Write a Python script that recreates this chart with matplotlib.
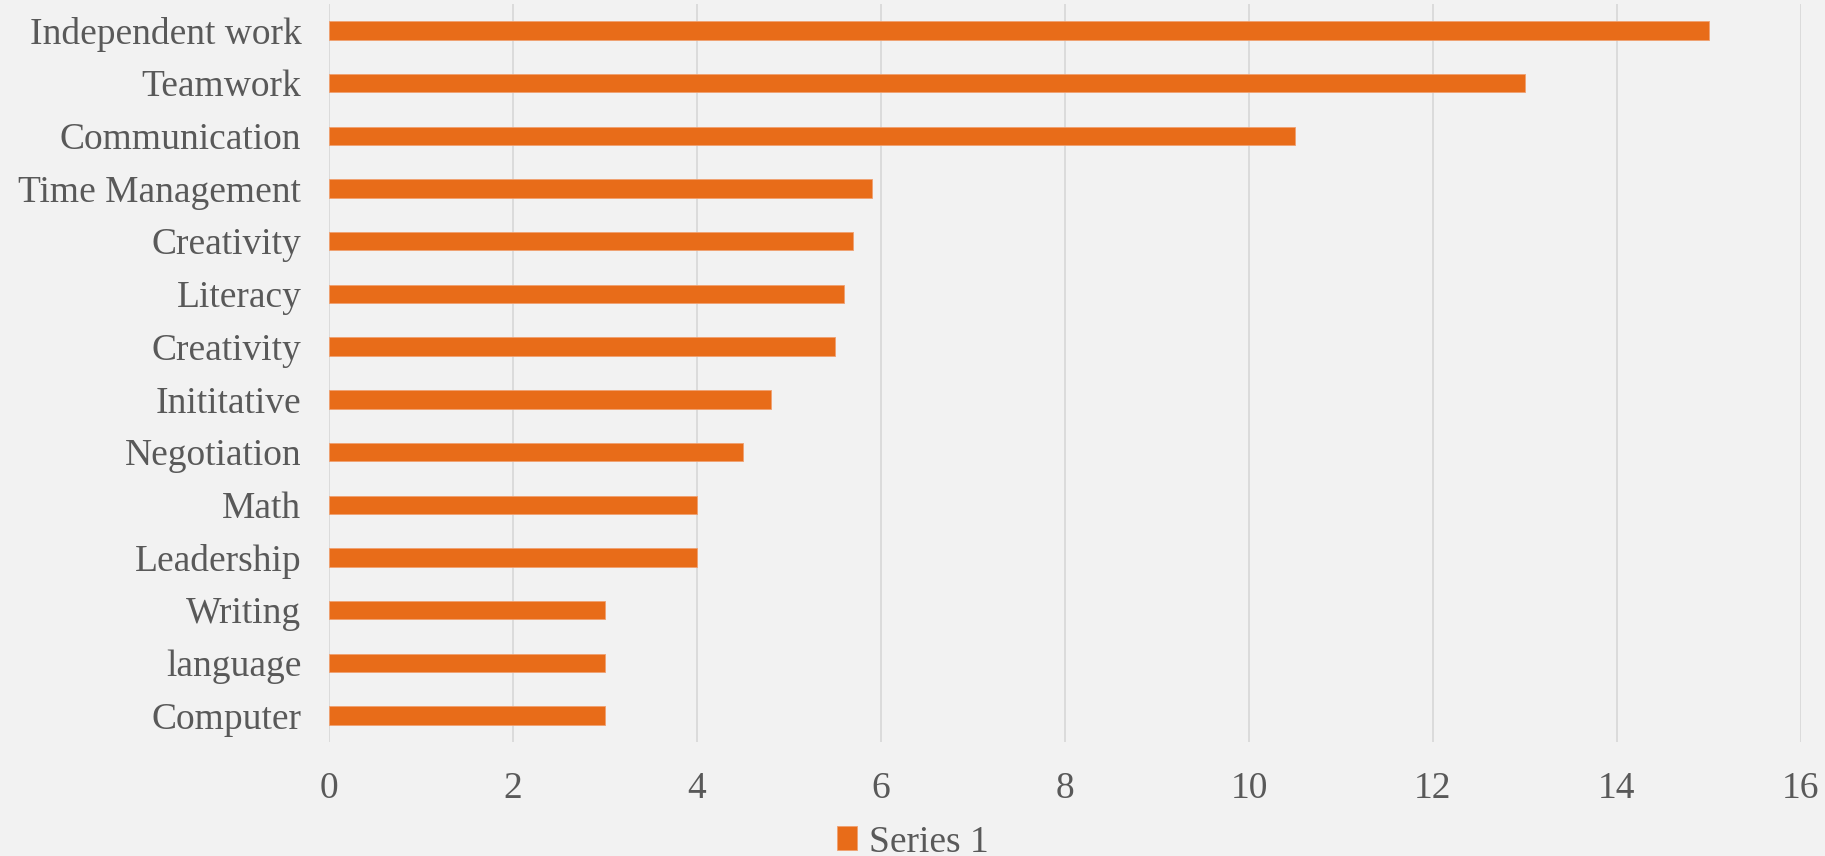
import matplotlib.pyplot as plt
import numpy as np

# skill names, top to bottom as shown in the chart
skills = ["Independent work", "Teamwork", "Communication", "Time Management",
          "Creativity", "Literacy", "Creativity", "Inititative", "Negotiation",
          "Math", "Leadership", "Writing", "language", "Computer"]
counts = [15, 13, 10.5, 5.9, 5.7, 5.6, 5.5, 4.8, 4.5, 4, 4, 3, 3, 3]
xticks = [0, 2, 4, 6, 8, 10, 12, 14, 16]

bg = "#F2F2F2"
orange = "#E86C19"
txt = "#595959"
grid = "#D9D9D9"

plt.rcParams['font.family'] = ['Liberation Serif', 'DejaVu Serif']

fig = plt.figure(figsize=(18.25, 8.56), dpi=100, facecolor=bg)
ax = fig.add_axes([0.1803, 0.1332, 0.9868 - 0.1803, 0.9953 - 0.1332])
ax.set_facecolor(bg)

# bottom-to-top positions so the first skill ends up on top
pos = np.arange(len(skills))[::-1]
ax.barh(pos, counts, height=0.35, color=orange, edgecolor="#F0A070",
        linewidth=0.6, label="Series 1", zorder=3)

ax.set_xlim(0, 16)
ax.set_ylim(-0.5, len(skills) - 0.5)
ax.set_xticks(xticks)
ax.set_xticklabels([str(t) for t in xticks])
ax.set_yticks(pos)
ax.set_yticklabels(skills)

ax.grid(axis="x", color=grid, linewidth=1.3, zorder=0)
for s in ax.spines.values():
    s.set_visible(False)
ax.tick_params(axis="both", length=0, labelsize=27, labelcolor=txt)
ax.tick_params(axis="y", pad=20)
ax.tick_params(axis="x", pad=21)

leg = fig.legend(loc="center", bbox_to_anchor=(0.5, 0.016), frameon=False,
                 fontsize=27, labelcolor=txt, handlelength=0.55, handleheight=0.6,
                 handletextpad=0.3)

fig.savefig("out.png", dpi=100, facecolor=bg)
